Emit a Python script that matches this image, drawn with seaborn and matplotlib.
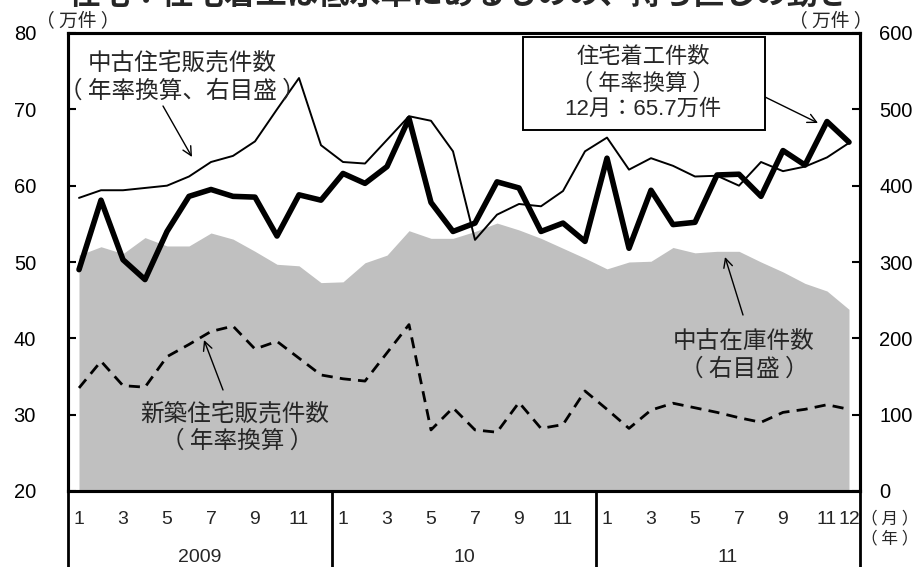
import matplotlib
matplotlib.use("Agg")
import matplotlib.pyplot as plt
import matplotlib.transforms as mtransforms
from matplotlib.patches import Rectangle
import numpy as np
import pandas as pd
import seaborn as sns

# ---- data -------------------------------------------------------------
years = ["2009", "10", "11"]
month_ticks = [1, 3, 5, 7, 9, 11]

# 住宅着工件数（年率換算, 万件, 左目盛）
housing_starts = [49.0, 58.1, 50.3, 47.7, 54.0, 58.6, 59.5, 58.6, 58.5, 53.4, 58.8, 58.1,
                  61.6, 60.3, 62.5, 68.8, 57.8, 54.0, 55.1, 60.5, 59.7, 54.0, 55.1, 52.7,
                  63.6, 51.8, 59.4, 54.9, 55.2, 61.4, 61.5, 58.6, 64.6, 62.7, 68.4, 65.7]
# 中古住宅販売件数（年率換算, 万件, 右目盛）
existing_sales = [384, 394, 394, 397, 400, 412, 431, 439, 458, 500, 541, 453,
                  431, 429, 460, 491, 485, 445, 329, 362, 376, 373, 393, 445,
                  463, 421, 436, 426, 412, 413, 400, 431, 419, 425, 437, 456]
# 中古在庫件数（万件, 右目盛）
existing_inventory = [309, 320, 311, 332, 321, 321, 338, 330, 314, 297, 295, 273,
                      274, 299, 309, 341, 331, 331, 340, 351, 342, 331, 318, 305,
                      291, 300, 301, 319, 312, 314, 314, 300, 287, 272, 262, 238]
# 新築住宅販売件数（年率換算, 万件, 左目盛）
new_sales = [33.5, 37.0, 33.8, 33.6, 37.6, 39.2, 40.9, 41.6, 38.6, 39.6, 37.4, 35.2,
             34.7, 34.4, 38.1, 41.8, 28.0, 30.9, 28.0, 27.7, 31.6, 28.2, 28.7, 33.1,
             30.7, 28.2, 30.6, 31.5, 30.9, 30.3, 29.6, 29.0, 30.3, 30.7, 31.3, 30.7]

left_ticks = [20, 30, 40, 50, 60, 70, 80]
right_ticks = [0, 100, 200, 300, 400, 500, 600]

df = pd.DataFrame({
    "t": np.arange(len(housing_starts)),
    "starts": housing_starts,
    "existing": existing_sales,
    "inventory": existing_inventory,
    "new": new_sales,
})

# ---- style ------------------------------------------------------------
sns.set_theme(style="white")
JP = ["Noto Sans CJK JP", "DejaVu Sans"]
NUM = ["Liberation Sans", "Noto Sans CJK JP", "DejaVu Sans"]
plt.rcParams["font.family"] = NUM
plt.rcParams["axes.unicode_minus"] = False

W, H = 919, 567
fig = plt.figure(figsize=(W / 100, H / 100), dpi=100)
fig.patch.set_facecolor("white")


def fy(y):
    """figure fraction from a pixel row counted from the top"""
    return 1 - y / H


def fx(x):
    return x / W


ax = fig.add_axes([fx(68), fy(491), fx(860 - 68), (491 - 33) / H])
ax2 = ax.twinx()

# right-axis series: inventory area and existing-home sales
ax2.fill_between(df["t"], df["inventory"], 0, color="#c0c0c0", lw=0, zorder=1)
sns.lineplot(data=df, x="t", y="existing", ax=ax2, color="black", lw=1.4, zorder=3)

# left-axis series: housing starts and new-home sales
sns.lineplot(data=df, x="t", y="new", ax=ax, color="black", lw=2.0,
             linestyle=(0, (4, 2.6)), zorder=3)
sns.lineplot(data=df, x="t", y="starts", ax=ax, color="black", lw=4.0, zorder=4)

ax.set_zorder(ax2.get_zorder() + 1)
ax.patch.set_visible(False)

ax.set_xlim(-0.5, 35.5)
ax.set_ylim(20, 80)
ax2.set_ylim(0, 600)
ax.set_yticks(left_ticks)
ax2.set_yticks(right_ticks)
for a in (ax, ax2):
    a.set_xlabel("")
    a.set_ylabel("")
    a.tick_params(axis="x", bottom=False, top=False, labelbottom=False)
    for s in a.spines.values():
        s.set_color("black")
        s.set_linewidth(2.2)
ax.tick_params(axis="y", direction="in", length=6, width=1.5, labelsize=14.5,
               pad=23, left=True, right=False, colors="black")
ax2.tick_params(axis="y", direction="in", length=6, width=1.5, labelsize=14.5,
                pad=14, right=True, left=False, colors="black")
for lab in ax.get_yticklabels() + ax2.get_yticklabels():
    lab.set_family(NUM)

# ---- category axis below the plot ------------------------------------
bx = mtransforms.blended_transform_factory(ax.transData, ax.transAxes)
bf = mtransforms.blended_transform_factory(ax.transData, fig.transFigure)
below = -(H - 491) / (491 - 33)
for b in [-0.5, 11.5, 23.5, 35.5]:
    ax.plot([b, b], [0, below], transform=bx, clip_on=False, color="black", lw=2.0)

for k, yr in enumerate(years):
    ticks = month_ticks + ([12] if k == len(years) - 1 else [])
    for m in ticks:
        t = 12 * k + m - 1
        ax.text(t, fy(519), str(m), transform=bf, ha="center", va="center",
                fontsize=14, family=NUM)
    ax.text(12 * k + 5.5, fy(557), yr, transform=bf, ha="center", va="center",
            fontsize=14, family=NUM)

fig.text(fx(890), fy(519), "（ 月 ）", ha="center", va="center", fontsize=12, family=JP)
fig.text(fx(890), fy(539), "（ 年 ）", ha="center", va="center", fontsize=12, family=JP)

# unit labels
fig.text(fx(78), fy(21), "（ 万件 ）", ha="center", va="center", fontsize=13.5, family=JP)
fig.text(fx(831), fy(21), "（ 万件 ）", ha="center", va="center", fontsize=13.5, family=JP)

# title line at the top edge
fig.text(0.5, fy(11), "住宅：住宅着工は低水準にあるものの、持ち直しの動き",
         ha="center", va="bottom", fontsize=22.5, fontweight="bold", family=JP)

# ---- annotations ------------------------------------------------------
def label(x, y, s, size=17, fam=JP):
    fig.text(fx(x), fy(y), s, ha="center", va="center", fontsize=size, family=fam)


def arrow(x0, y0, x1, y1):
    ax.annotate("", xy=(fx(x1), fy(y1)), xycoords="figure fraction",
                xytext=(fx(x0), fy(y0)), textcoords="figure fraction",
                arrowprops=dict(arrowstyle="->", color="black", lw=1.0,
                                mutation_scale=16, shrinkA=0, shrinkB=0),
                annotation_clip=False)


label(182, 63, "中古住宅販売件数")
label(182, 91, "（ 年率換算、右目盛 ）")
arrow(163, 106, 192, 157)

box = Rectangle((fx(523), fy(130)), fx(765 - 523), (130 - 37) / H,
                transform=fig.transFigure, facecolor="white", edgecolor="black",
                lw=1.4, zorder=10)
fig.add_artist(box)
for yy, s, fam in [(57, "住宅着工件数", JP), (83, "（ 年率換算 ）", JP),
                   (109, "12月：65.7万件", NUM)]:
    t = fig.text(fx(643), fy(yy), s, ha="center", va="center", fontsize=16, family=fam)
    t.set_zorder(11)
arrow(765, 97, 818, 123)

label(744, 342, "中古在庫件数")
label(744, 369, "（ 右目盛 ）")
arrow(743, 315, 725, 257)

label(235, 414, "新築住宅販売件数")
label(237, 441, "（ 年率換算 ）")
arrow(223, 390, 204, 340)

fig.savefig("out.png", dpi=100, facecolor="white")
